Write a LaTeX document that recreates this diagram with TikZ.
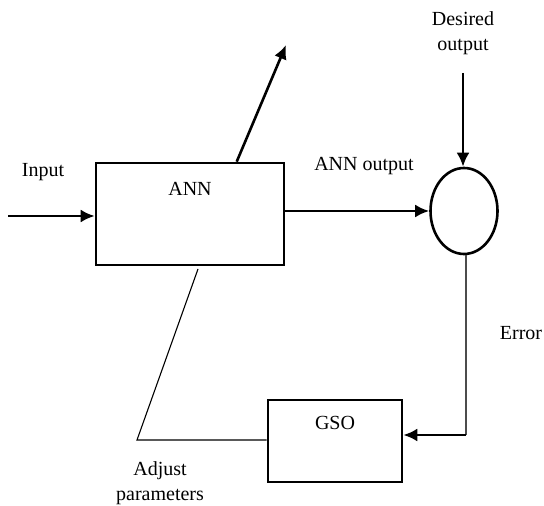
\documentclass[tikz,border=0pt]{standalone}
\usepackage{fontspec}
\setmainfont{Liberation Serif}
\usepackage{tikz}
\usetikzlibrary{arrows.meta,positioning,calc,shapes.geometric}

\begin{document}
\begin{tikzpicture}[>={Latex[length=7pt,width=6.5pt]},x=0.5pt,y=-0.5pt,
  blk/.style={rectangle,draw,line width=1.3pt,inner sep=0pt},
  sm/.style={ellipse,draw,line width=1.3pt,minimum width=33.5pt,minimum height=43pt,inner sep=0pt},
  ar/.style={->,line width=1.3pt},
  tn/.style={line width=0.55pt},
  lab/.style={font=\fontsize{10}{12.5}\selectfont,align=center,inner sep=0pt}]
\useasboundingbox (0,0) rectangle (544,506);
% blocks
\node[blk,minimum width=94pt,minimum height=51pt] (ann) at (190,214) {};
\node[lab] (annt) at (190,189) {ANN};
\node[blk,minimum width=67pt,minimum height=41pt] (gso) at (335,441) {};
\node[lab] (gsot) at (335,423) {GSO};
\node[sm] (sum) at (464,211) {};
% labels
\node[lab] (inl) at (43,172) {Input};
\node[lab] (outl) at (364,166) {ANN output};
\node[lab] (des) at (463,33) {Desired\\output};
\node[lab] (errl) at (521,333) {Error};
\node[lab] (adj) at (160,483) {Adjust\\parameters};
% free ends and corners
\coordinate (in) at (8,216);
\coordinate (up) at (286,45);
\coordinate (dtop) at (463,73);
\coordinate (err) at (466,435);
\coordinate (kink) at (137,440);
\coordinate (hook) at (198,269);
% signal flow
\draw[ar] (in) -- (in -| ann.west);
\draw[ar] ($(ann.north west)!0.745!(ann.north east)$) -- (up);
\draw[ar] (ann.east |- sum.west) -- (sum.west);
\draw[ar] (dtop) -- (dtop |- sum.north);
\draw[line width=0.75pt,black!70] (sum.south -| err) -- (err);
\draw[ar] (err) -- (err -| gso.east);
\draw[tn] (gso.west |- kink) -- (kink) -- (hook);
\end{tikzpicture}
\end{document}
